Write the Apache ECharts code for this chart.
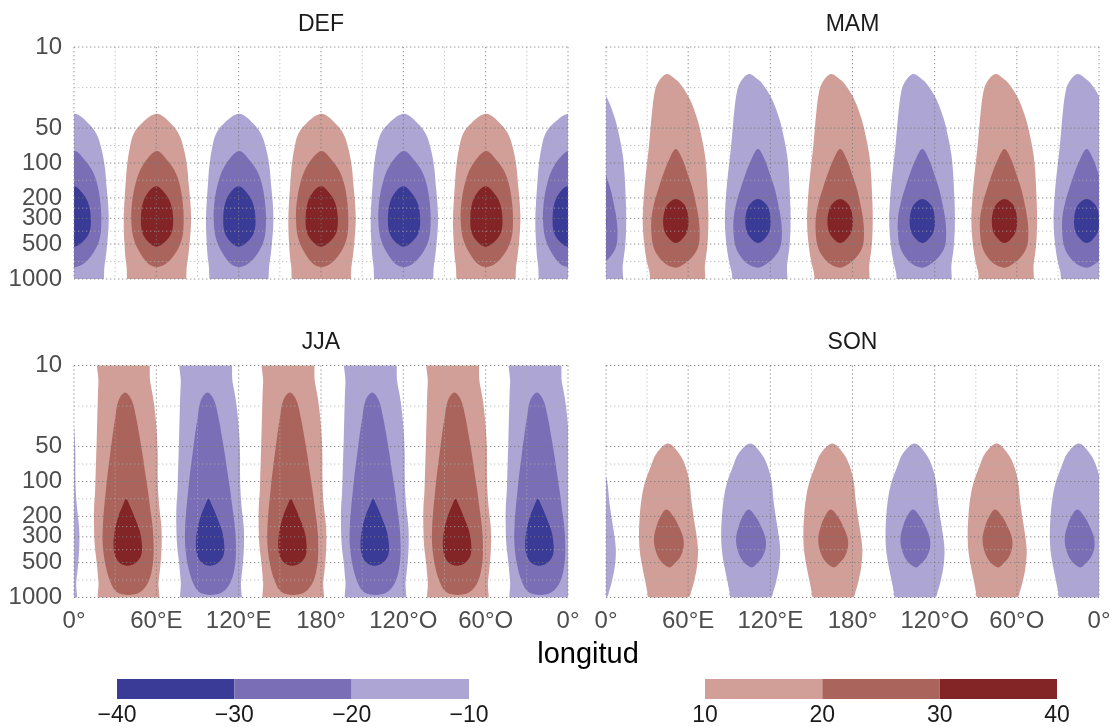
<!DOCTYPE html>
<html><head><meta charset="utf-8">
<script src="https://cdn.jsdelivr.net/npm/echarts@6/dist/echarts.min.js"></script>
<style>html,body{margin:0;padding:0;background:#fff}#c{width:1118px;height:727px}</style>
</head><body><div id="c"></div>
<script>
// ---------- data ----------
const panelTitles = ['DEF', 'MAM', 'JJA', 'SON'];
const lonTicks = [0, 60, 120, 180, 240, 300, 360];
const lonLabels = ['0°', '60°E', '120°E', '180°', '120°O', '60°O', '0°'];
const lonMinor = [30, 90, 150, 210, 270, 330];
const pTicks = [10, 50, 100, 200, 300, 500, 1000];
const pMinor = [22.4, 70.7, 141, 245, 387, 707];
const negLevels = [-40, -30, -20, -10];
const posLevels = [10, 20, 30, 40];
const xTitle = 'longitud';

// blob centres (longitude) and sign of each anomaly cell, per season
const defCenters = [0, 60, 120, 180, 240, 300, 360];
const mamCenters = [-9, 51, 111, 171, 231, 291, 351];
const jjaCenters = [-20.5, 39.5, 99.5, 159.5, 219.5, 279.5, 339.5];
const sonCenters = [-14, 46, 106, 166, 226, 286, 346];
const cellSigns = [-1, 1, -1, 1, -1, 1, -1];

// contour outlines [longitude offset from centre, pressure hPa]; level 1 = |v|>10, 2 = |v|>20, 3 = |v|>30
// (outlines cut by the domain edge continue slightly past 10 / 1000 hPa and are clipped)
const defL1 = [[0.5,37.7],[10.2,45.2],[16.3,56],[19.9,74.7],[22.4,107],[23.6,153],[24.8,219],[25.3,314],[24.3,483],[22.4,744],[18.5,1200],[-18,1200],[-21.9,744],[-23.3,483],[-23.8,314],[-23.3,219],[-22.4,153],[-21.4,107],[-19.4,74.7],[-16.5,56],[-10.4,45.2]];
const defL2 = [[0.5,79],[7.3,92.6],[13.1,115],[17,153],[19.2,219],[19.9,314],[18.7,450],[13.9,600],[6.6,744],[0.5,788],[-5.6,744],[-11.7,600],[-16.5,450],[-18.2,314],[-17.7,219],[-15.3,153],[-11.7,115],[-6.8,92.6]];
const defL3 = [[0,159],[5.3,177],[10.2,219],[12.2,292],[11.4,390],[7.3,466],[0,527],[-6.8,466],[-10.4,390],[-11.2,292],[-9.7,219],[-5.6,177]];

const mamL1 = [[-6.8,17.1],[0,19.1],[4.8,22],[10.9,29.3],[15.7,42],[18.9,60.2],[21.3,86.2],[22.5,123],[23.2,177],[23.7,253],[23.7,363],[23,519],[21.3,744],[19,1200],[-16,1200],[-19.4,859],[-21.8,644],[-23.5,450],[-24.2,314],[-23.7,219],[-22.7,153],[-21.3,107],[-19.8,74.7],[-18.6,52.1],[-17.4,36.4],[-15.7,25.4],[-13.3,20.5]];
const mamL2 = [[0,75.7],[4.8,92.6],[8.5,123],[12.1,165],[14.5,219],[16.5,292],[17.4,390],[16.5,519],[12.1,644],[6,744],[0,799],[-7.3,744],[-12.6,644],[-16.5,519],[-17.9,390],[-17.7,292],[-15.7,219],[-12.6,165],[-9,123],[-4.8,92.6]];
const mamL3 = [[0,204],[6,227],[8.7,272],[9.2,338],[7.7,404],[3.6,466],[0,490],[-3.6,466],[-7.7,404],[-9.2,338],[-8.7,272],[-6,227]];

const jjaL1 = [[-20.7,8],[12.5,8],[16.1,14],[18.5,20.1],[20,28.7],[21,41.1],[21.5,58.8],[21.5,84.2],[21.8,120.5],[22.8,172.5],[24.2,247],[24.4,353],[23.6,506],[22.2,724],[20.3,1200],[-19.8,1200],[-21.7,724],[-22.9,506],[-24.4,353],[-24.9,247],[-24.9,172.5],[-24.1,120.5],[-23.7,84.2],[-22.9,41.1],[-22.2,20.1],[-21.7,14]];
const jjaL2 = [[-2.2,17.1],[2.7,20.1],[5.9,28.7],[8.3,41.1],[10.5,58.8],[12.4,84.2],[14.4,120.5],[16.1,172.5],[17.8,247],[18.5,353],[18,506],[14.9,724],[8.8,898],[0.2,950],[-8.3,898],[-13.2,724],[-16.8,506],[-18.5,353],[-18.5,247],[-17.6,172.5],[-16.3,120.5],[-14.9,84.2],[-13.2,58.8],[-11.5,41.1],[-9.5,28.7],[-7.1,20.1]];
const jjaL3 = [[-1.5,141],[1,160.6],[4.4,199],[8.3,265],[10,353],[9.3,438],[5.1,506],[-0.5,532],[-5.9,506],[-9.5,438],[-10.7,353],[-9.8,265],[-7.1,199],[-3.9,160.6]];

const sonL1 = [[-0.7,47.1],[7.3,57.4],[12.2,74.8],[15.1,104],[16.3,145],[18,202],[19.9,281],[21.2,391],[20.4,544],[18.5,709],[16.5,865],[14,1000],[-14.5,1000],[-16,865],[-17.5,709],[-19.5,544],[-21.4,391],[-21.9,281],[-21.4,202],[-20.2,145],[-17.8,104],[-13.4,74.8],[-9.2,57.4]];
const sonL2 = [[-1.9,174.4],[3.4,201.8],[7.3,246],[10.2,300],[10.7,366],[8.3,446],[4.1,510],[0.5,551],[-4.4,510],[-8,446],[-10.5,366],[-10.9,300],[-9.2,246],[-6.3,201.8]];

// ---------- style ----------
const FONT = '"Liberation Sans", Arial, Helvetica, sans-serif';
const blueFill = ['#ada5d3', '#7a6eb7', '#3a3a97']; // level 1,2,3
const redFill = ['#d19e98', '#ab645c', '#832426'];
const negBar = ['#3a3a97', '#7a6eb7', '#ada5d3'];
const posBar = ['#d19e98', '#ab645c', '#832426'];

const panels = [
  { centers: defCenters, outlines: [defL1, defL2, defL3] },
  { centers: mamCenters, outlines: [mamL1, mamL2, mamL3] },
  { centers: jjaCenters, outlines: [jjaL1, jjaL2, jjaL3] },
  { centers: sonCenters, outlines: [sonL1, sonL2] }
];
const gridBox = [
  { left: 74, top: 47, width: 494, height: 232 },
  { left: 606, top: 47, width: 493, height: 232 },
  { left: 74, top: 365.5, width: 494, height: 232 },
  { left: 606, top: 365.5, width: 493, height: 232 }
];

const grids = [], xAxes = [], yAxes = [], series = [], graphics = [];
const lg = Math.log10;

panels.forEach((pn, i) => {
  grids.push(Object.assign({ containLabel: false }, gridBox[i]));
  xAxes.push({
    gridIndex: i, type: 'value', min: 0, max: 360, interval: 60,
    axisLine: { show: false }, axisTick: { show: false }, splitLine: { show: false },
    axisLabel: { show: i >= 2, margin: 12, color: '#4d4d4d', fontSize: 24, fontFamily: FONT,
      formatter: v => lonLabels[lonTicks.indexOf(Math.round(v))] || '' }
  });
  yAxes.push({
    gridIndex: i, type: 'value', min: lg(pTicks[0]), max: lg(pTicks[pTicks.length - 1]), inverse: true,
    axisLine: { show: false }, axisTick: { show: false }, splitLine: { show: false },
    axisLabel: { show: i % 2 === 0, margin: 12, color: '#4d4d4d', fontSize: 24, fontFamily: FONT,
      customValues: pTicks.map(lg),
      formatter: v => String(Math.round(Math.pow(10, v))) }
  });
  const data = [];
  for (let lvl = 1; lvl <= pn.outlines.length; lvl++) {
    pn.centers.forEach((c, k) => data.push([c, lg(300), lvl, cellSigns[k]]));
  }
  series.push({
    type: 'custom', xAxisIndex: i, yAxisIndex: i, clip: true, z: 2,
    encode: { x: 0, y: 1 }, silent: true,
    data: data,
    renderItem: (params, api) => {
      const c = api.value(0), lvl = api.value(2), sgn = api.value(3);
      const pts = pn.outlines[lvl - 1].map(d => api.coord([c + d[0], lg(d[1])]));
      return { type: 'polygon', z2: lvl, shape: { points: pts, smooth: 0.35 },
        style: { fill: sgn < 0 ? blueFill[lvl - 1] : redFill[lvl - 1] } };
    }
  });
  // grid lines (drawn over the fills)
  const gl = [];
  lonTicks.forEach(v => gl.push([0, v, 1]));
  lonMinor.forEach(v => gl.push([0, v, 0]));
  pTicks.forEach(v => gl.push([1, v, 1]));
  pMinor.forEach(v => gl.push([1, v, 0]));
  series.push({
    type: 'custom', xAxisIndex: i, yAxisIndex: i, z: 5, silent: true,
    encode: { x: -1, y: -1 }, data: gl,
    renderItem: (params, api) => {
      const kind = api.value(0), v = api.value(1), major = api.value(2);
      let a, b;
      if (kind === 0) { a = api.coord([v, lg(pTicks[0])]); b = api.coord([v, lg(pTicks[pTicks.length - 1])]); }
      else { a = api.coord([lonTicks[0], lg(v)]); b = api.coord([lonTicks[lonTicks.length - 1], lg(v)]); }
      return { type: 'line', shape: { x1: a[0], y1: a[1], x2: b[0], y2: b[1] },
        style: { stroke: major ? 'rgba(120,120,120,0.85)' : 'rgba(175,175,175,0.75)', lineWidth: 1, lineDash: [1.3, 2.7] } };
    }
  });
  graphics.push({ type: 'text', x: gridBox[i].left + gridBox[i].width / 2, y: gridBox[i].top - 22.5,
    style: { text: panelTitles[i], font: '23px ' + FONT, fill: '#1a1a1a', textAlign: 'center', textVerticalAlign: 'middle' } });
});

graphics.push({ type: 'text', x: 588, y: 655,
  style: { text: xTitle, font: '29px ' + FONT, fill: '#000', textAlign: 'center', textVerticalAlign: 'middle' } });

// colour bars
const barDefs = [
  { levels: negLevels, colors: negBar, box: { left: 117, top: 679, width: 352, height: 20 } },
  { levels: posLevels, colors: posBar, box: { left: 705, top: 679, width: 352, height: 20 } }
];
barDefs.forEach((bd, j) => {
  const gi = 4 + j;
  grids.push(bd.box);
  xAxes.push({ gridIndex: gi, type: 'value', min: bd.levels[0], max: bd.levels[bd.levels.length - 1], interval: 10,
    axisLine: { show: false }, axisTick: { show: false }, splitLine: { show: false },
    axisLabel: { margin: 5, color: '#1a1a1a', fontSize: 23, fontFamily: FONT,
      formatter: v => (v < 0 ? '\u2212' + Math.abs(v) : String(v)) } });
  yAxes.push({ gridIndex: gi, type: 'value', min: 0, max: 1, show: false });
  const d = [];
  for (let k = 0; k < bd.levels.length - 1; k++) d.push([bd.levels[k], bd.levels[k + 1], k]);
  series.push({
    type: 'custom', xAxisIndex: gi, yAxisIndex: gi, silent: true, encode: { x: [0, 1], y: -1 }, data: d,
    renderItem: (params, api) => {
      const a = api.coord([api.value(0), 1]), b = api.coord([api.value(1), 0]);
      return { type: 'rect', shape: { x: a[0], y: a[1], width: b[0] - a[0], height: b[1] - a[1] },
        style: { fill: bd.colors[api.value(2)] } };
    }
  });
});

const chart = echarts.init(document.getElementById('c'), null, { renderer: 'canvas' });
chart.setOption({
  animation: false, backgroundColor: '#fff',
  grid: grids, xAxis: xAxes, yAxis: yAxes, series: series, graphic: graphics
});
</script></body></html>
